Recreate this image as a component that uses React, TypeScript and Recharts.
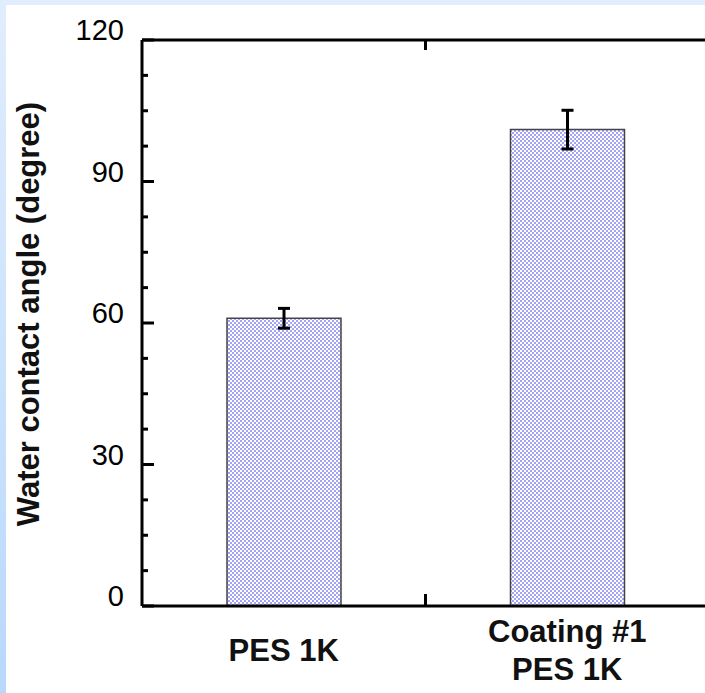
import React from 'react';
import { BarChart, Bar, XAxis, YAxis, ErrorBar } from 'recharts';

const categories = ['PES 1K', 'Coating #1\nPES 1K'];
const contactAngles = [61, 101];
const angleErrors = [2.1, 4.1];
const yTicks = [0, 7.5, 15, 22.5, 30, 37.5, 45, 52.5, 60, 67.5, 75, 82.5, 90, 97.5, 105, 112.5, 120];

const data = categories.map((name, i) => ({
  name,
  angle: contactAngles[i],
  err: angleErrors[i],
}));

const FONT = '"Liberation Sans", Arial, sans-serif';

function LeftTick({ x, y, payload }: any) {
  const major = payload.value % 30 === 0;
  return (
    <g>
      <line x1={x} x2={x + (major ? 12 : 6)} y1={y} y2={y} stroke="#000" strokeWidth={3} />
      {major && (
        <text x={x - 18} y={y} textAnchor="end" fontSize={29} fontFamily={FONT} fill="#000">
          {payload.value}
        </text>
      )}
    </g>
  );
}

function RightTick({ x, y, payload }: any) {
  const major = payload.value % 30 === 0;
  return <line x1={x} x2={x - (major ? 14 : 8)} y1={y} y2={y} stroke="#000" strokeWidth={3} />;
}

// half a category band: where the boundary tick between two bars sits
function halfBand(props: any) {
  const off = props.payload?.offset;
  if (typeof off === 'number' && off > 0) return off;
  return props.width / (props.visibleTicksCount || categories.length) / 2;
}

function TopTick(props: any) {
  const { x, y, index, visibleTicksCount } = props;
  if (index >= (visibleTicksCount || categories.length) - 1) return <g />;
  const bx = x + halfBand(props);
  return <line x1={bx} x2={bx} y1={y} y2={y + 10} stroke="#000" strokeWidth={3} />;
}

function CategoryTick(props: any) {
  const { x, y, payload, index, visibleTicksCount } = props;
  const lines = String(payload.value).split('\n');
  const last = index >= (visibleTicksCount || categories.length) - 1;
  const bx = x + halfBand(props);
  return (
    <g>
      {!last && <line x1={bx} x2={bx} y1={y} y2={y - 12} stroke="#000" strokeWidth={3} />}
      {lines.map((line, i) => (
        <text
          key={i}
          x={x}
          y={y + 55 + (i - (lines.length - 1) / 2) * 38}
          textAnchor="middle"
          fontSize={31}
          fontWeight="bold"
          fontFamily={FONT}
          fill="#111"
        >
          {line}
        </text>
      ))}
    </g>
  );
}

function YTitle({ viewBox }: any) {
  const cx = viewBox.x + 39;
  const cy = viewBox.y + viewBox.height / 2 - 9;
  return (
    <text
      x={0}
      y={0}
      transform={`translate(${cx},${cy}) rotate(-90)`}
      textAnchor="middle"
      fontSize={31}
      fontWeight="bold"
      fontFamily={FONT}
      fill="#111"
    >
      Water contact angle (degree)
    </text>
  );
}

export default function App() {
  return (
    <div
      style={{
        width: 705,
        height: 693,
        position: 'relative',
        overflow: 'hidden',
        background: 'linear-gradient(to bottom, #e0edfd, #b9d8fc)',
      }}
    >
      <style>{'body{margin:0}'}</style>
      <div style={{ position: 'absolute', left: 6, top: 5, right: 0, bottom: 0, background: '#fff' }} />
      <div style={{ position: 'absolute', left: 0, top: 0 }}>
        <BarChart
          width={705}
          height={693}
          data={data}
          margin={{ top: 39, right: -14, bottom: 0, left: 0 }}
        >
          <defs>
            <pattern id="dots" width="4" height="4" patternUnits="userSpaceOnUse">
              <rect width="4" height="4" fill="#ffffff" />
              <rect width="2" height="2" fill="#a4a4f6" />
              <rect x="2" y="2" width="2" height="2" fill="#a4a4f6" />
            </pattern>
          </defs>
          <XAxis
            xAxisId="top"
            orientation="top"
            dataKey="name"
            height={1}
            tickSize={0}
            tickMargin={0}
            tickLine={false}
            interval={0}
            tick={<TopTick />}
            axisLine={{ stroke: '#000', strokeWidth: 3 }}
          />
          <XAxis
            xAxisId="cat"
            dataKey="name"
            height={87}
            tickSize={0}
            tickMargin={0}
            tickLine={false}
            interval={0}
            tick={<CategoryTick />}
            axisLine={{ stroke: '#000', strokeWidth: 3 }}
          />
          <YAxis
            yAxisId="l"
            width={142}
            domain={[0, 120]}
            ticks={yTicks}
            interval={0}
            tickSize={0}
            tickMargin={0}
            tickLine={false}
            tick={<LeftTick />}
            axisLine={{ stroke: '#000', strokeWidth: 3 }}
            label={{ content: <YTitle /> }}
          />
          <YAxis
            yAxisId="r"
            orientation="right"
            width={10}
            domain={[0, 120]}
            ticks={yTicks}
            interval={0}
            tickSize={0}
            tickMargin={0}
            tickLine={false}
            tick={<RightTick />}
            axisLine={false}
          />
          <Bar
            xAxisId="cat"
            yAxisId="l"
            dataKey="angle"
            barSize={114}
            fill="url(#dots)"
            stroke="#444"
            strokeWidth={1.5}
            isAnimationActive={false}
          >
            <ErrorBar dataKey="err" width={6} stroke="#000" strokeWidth={3} isAnimationActive={false} />
          </Bar>
        </BarChart>
      </div>
    </div>
  );
}
